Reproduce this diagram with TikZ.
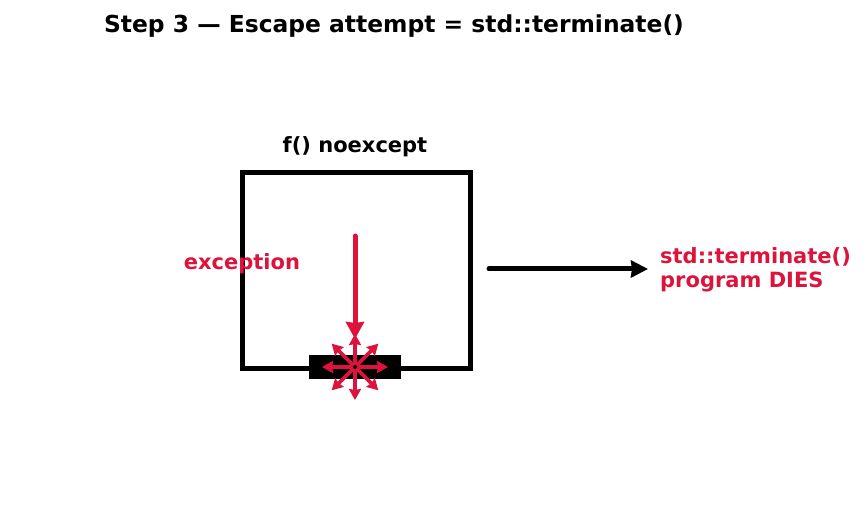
\documentclass[tikz,border=0pt]{standalone}
\usepackage{fontspec}
\setmainfont{DejaVu Sans}
\usetikzlibrary{arrows.meta}
\definecolor{crim}{HTML}{DC143C}
\begin{document}
\begin{tikzpicture}[x=1pt,y=-1pt,
  lbl/.style={font=\bfseries\fontsize{21}{24}\selectfont},
  burst/.style={draw=crim,line width=3.6pt,-{Stealth[length=11pt,width=12pt,inset=1pt]}}]
\useasboundingbox (0,0) rectangle (867,510);
\node[font=\bfseries\fontsize{23.4}{28}\selectfont] (title) at (394,26) {Step 3 — Escape attempt = std::terminate()};
\draw[line width=5pt] (242.5,172.5) rectangle (470,368);
\node[lbl] (fn) at (355,147) {f() noexcept};
\fill (309,355) rectangle (401,379);
\coordinate (c) at (355,367);
\coordinate (s) at (355,236);
\coordinate (e) at (355,339);
\draw[draw=crim,line width=5pt,line cap=round,-{Stealth[length=17pt,width=18pt,inset=1pt]}] (s) -- (e);
\node[lbl,text=crim] (exc) at (242,264) {exception};
\foreach \a in {0,45,...,315}{
  \draw[burst] (c) -- ++(\a:33);
}
\fill[black] (c) circle (2pt);
\coordinate (a1) at (489,269);
\coordinate (a2) at (648,269);
\draw[line width=5pt,line cap=round,-{Stealth[length=17pt,width=17pt,inset=1pt]}] (a1) -- (a2);
\node[lbl,text=crim,anchor=west,align=left,inner sep=0pt] (term) at (660,270) {std::terminate()\\program DIES};
\end{tikzpicture}
\end{document}
